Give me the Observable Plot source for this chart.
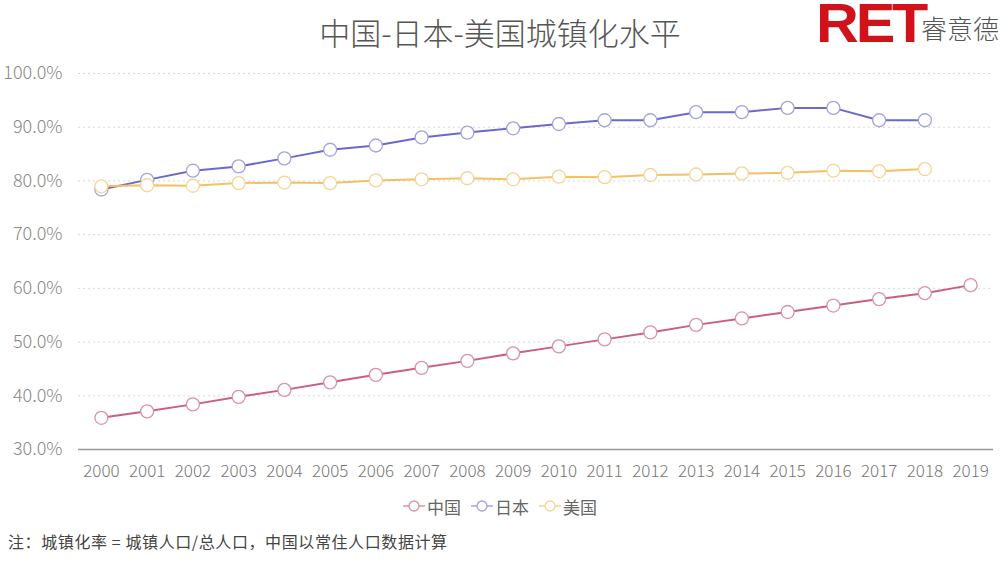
<!DOCTYPE html>
<html><head><meta charset="utf-8">
<script src="https://cdn.jsdelivr.net/npm/d3@7"></script>
<script src="https://cdn.jsdelivr.net/npm/@observablehq/plot@0.6"></script>
<style>
body{margin:0;background:#fff;font-family:"Noto Sans CJK SC","Noto Sans",sans-serif;}
#wrap{position:relative;width:1000px;height:563px;overflow:hidden;}
#chart{position:absolute;left:0;top:0;}
.title{position:absolute;left:0;width:1000px;top:10px;text-align:center;font-size:31px;line-height:44px;color:#555;font-weight:300;}
.logo{position:absolute;left:816px;top:2px;font-family:"Liberation Sans",Arial,sans-serif;font-weight:bold;font-size:56px;line-height:42px;color:#d0121b;letter-spacing:-3px;transform:scaleX(1.06);transform-origin:left;}
.logo2{position:absolute;left:921px;top:11px;font-size:26px;line-height:34px;color:#555;font-weight:300;}
.legend{position:absolute;left:0;width:1000px;top:493px;text-align:center;font-size:17px;color:#666;}
.legend span.item{margin:0 5px;display:inline-flex;align-items:center;}
.note{position:absolute;left:8px;top:529px;font-size:16px;letter-spacing:0.6px;color:#444;}
</style></head>
<body><div id="wrap">
<div class="title">中国-日本-美国城镇化水平</div>
<div class="logo">RET</div>
<div class="logo2">睿意德</div>
<div id="chart"></div>
<div class="legend" id="legend"></div>
<div class="note">注：城镇化率 = 城镇人口/总人口，中国以常住人口数据计算</div>
</div>
<script>
const years = ["2000","2001","2002","2003","2004","2005","2006","2007","2008","2009","2010","2011","2012","2013","2014","2015","2016","2017","2018","2019"];
const china = [35.9,37.1,38.4,39.8,41.1,42.5,43.9,45.2,46.5,47.9,49.2,50.5,51.8,53.2,54.4,55.6,56.8,58.0,59.1,60.6];
const japan = [78.4,80.2,81.9,82.7,84.2,85.8,86.6,88.1,89.0,89.8,90.6,91.3,91.3,92.8,92.8,93.6,93.6,91.3,91.3];
const usa = [79.0,79.2,79.1,79.6,79.7,79.6,80.1,80.3,80.5,80.3,80.8,80.7,81.1,81.2,81.4,81.5,81.9,81.8,82.2];
const seriesNames = ["中国","日本","美国"];
const lineColors = ["#c9607f","#6a6acc","#f3c062"];
const markColors = ["#d993a8","#a3a3dd","#f5d597"];
const yTicks = [30,40,50,60,70,80,90,100];

const rows = [];
[china, japan, usa].forEach((vals, i) => vals.forEach((v, j) => rows.push({year: years[j], value: v, series: seriesNames[i]})));

const chart = Plot.plot({
  width: 1000, height: 490,
  marginTop: 73, marginBottom: 41, marginLeft: 78, marginRight: 7,
  style: {fontFamily: '"Noto Sans CJK SC","Noto Sans",sans-serif', fontSize: "17px", color: "#777", background: "transparent"},
  x: {type: "point", domain: years, padding: 0.5, round: false, label: null},
  y: {domain: [30, 100], ticks: yTicks, label: null},
  color: {domain: seriesNames, range: lineColors},
  marks: [
    Plot.ruleY(yTicks.filter(d => d > 30), {stroke: "#d8d8d8", strokeDasharray: "2,3", strokeWidth: 1}),
    Plot.ruleY([30], {stroke: "#999", strokeWidth: 1.5}),
    Plot.axisY({ticks: yTicks, tickSize: 0, tickPadding: 16, tickFormat: d => d.toFixed(1) + "%", fontSize: 18, fill: "#888", fontWeight: 300}),
    Plot.axisX({tickSize: 0, tickPadding: 15, fontSize: 17, fill: "#777", fontWeight: 300}),
    Plot.line(rows, {x: "year", y: "value", z: "series", stroke: "series", strokeWidth: 2}),
    Plot.dot(rows, {x: "year", y: "value", r: 6.5, fill: "white", stroke: d => markColors[seriesNames.indexOf(d.series)], strokeWidth: 1.3})
  ]
});
document.getElementById("chart").appendChild(chart);

const lg = document.getElementById("legend");
seriesNames.forEach((n, i) => {
  const s = document.createElement("span");
  s.className = "item";
  s.innerHTML = `<svg width="22" height="14" style="margin-right:2px"><line x1="0" x2="22" y1="7" y2="7" stroke="${markColors[i]}" stroke-width="1.5"/><circle cx="11" cy="7" r="5" fill="white" stroke="${markColors[i]}" stroke-width="1.3"/></svg>${n}`;
  lg.appendChild(s);
});
</script>
</body></html>
